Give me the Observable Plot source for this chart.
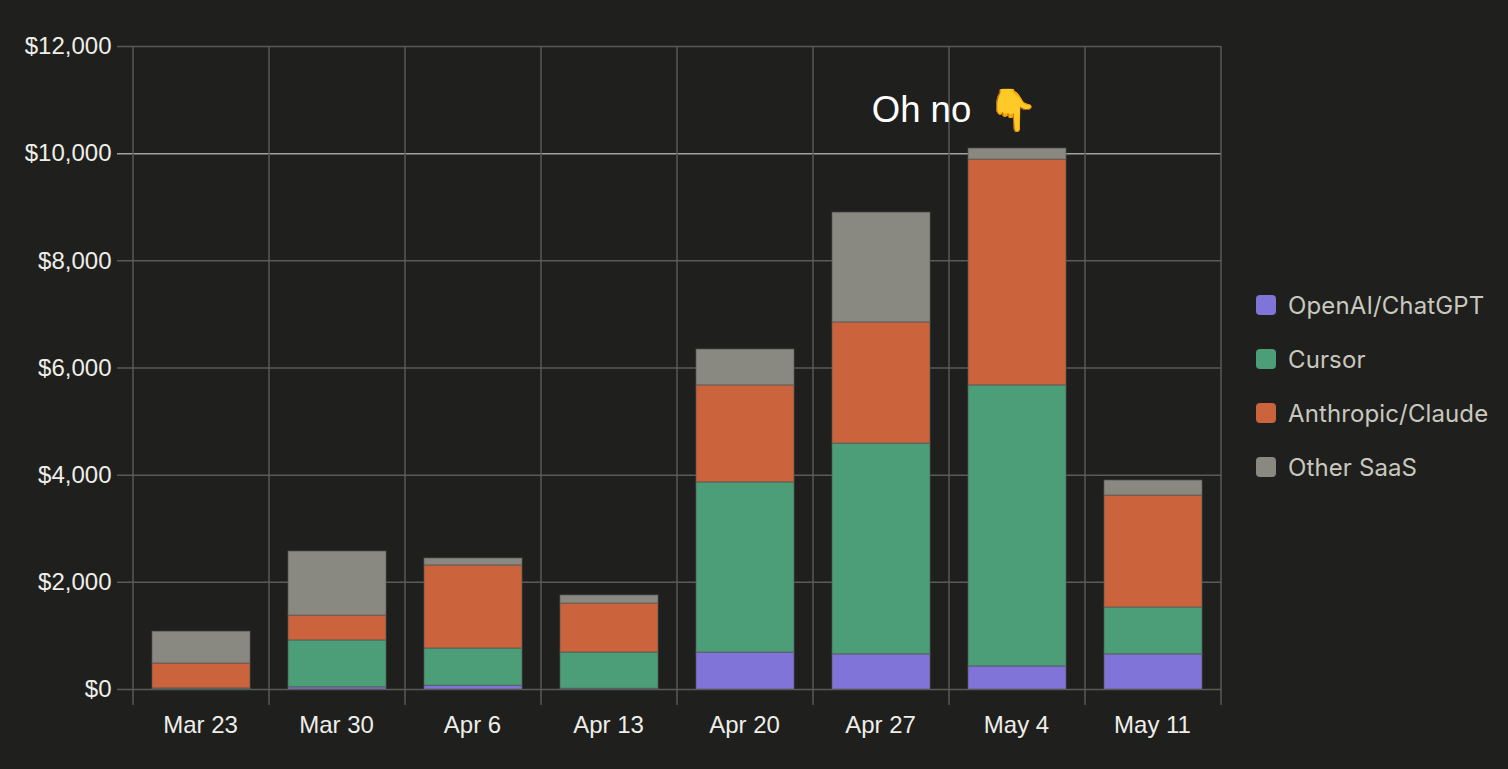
<!DOCTYPE html>
<html>
<head>
<meta charset="utf-8">
<script src="https://cdn.jsdelivr.net/npm/d3@7"></script>
<script src="https://cdn.jsdelivr.net/npm/@observablehq/plot@0.6"></script>
<style>
html,body{margin:0;padding:0;background:#1f1f1e;overflow:hidden}
#wrap{position:relative;width:1508px;height:769px}
#legend{position:absolute;left:1256px;top:278px;font:24px Inter,sans-serif;letter-spacing:.12px;color:#c9c8bf}
#legend div{display:flex;align-items:center;height:54px}
#legend i{display:block;width:20px;height:20px;border-radius:4px;margin-right:12px}
svg{display:block}
</style>
</head>
<body>
<div id="wrap"><div id="chart"></div><div id="legend"></div></div>
<script>
const weeks = ["Mar 23","Mar 30","Apr 6","Apr 13","Apr 20","Apr 27","May 4","May 11"];
const seriesNames = ["OpenAI/ChatGPT","Cursor","Anthropic/Claude","Other SaaS"];
const seriesColors = ["#8074d8","#4b9e78","#cb633d","#8a8981"];
const openai    = [5, 40, 70, 15, 690, 655, 430, 655];
const cursor    = [15, 875, 695, 675, 3175, 3935, 5245, 875];
const anthropic = [465, 465, 1550, 915, 1810, 2260, 4215, 2090];
const other     = [595, 1195, 130, 150, 670, 2050, 205, 280];
const yTicks = [0,2000,4000,6000,8000,10000,12000];
const seriesValues = [openai,cursor,anthropic,other];
const rows = weeks.flatMap((w,i)=>seriesNames.map((s,j)=>({week:w,series:s,value:seriesValues[j][i]})));
const annotation = [{week:"May 4", total:10095}];

const grid = "#5a5a58";
const chart = Plot.plot({
  width:1508, height:769,
  marginLeft:133, marginRight:287, marginTop:46, marginBottom:80,
  style:{background:"transparent",fontFamily:"'Liberation Sans',sans-serif"},
  x:{domain:weeks,paddingInner:0.28,paddingOuter:0.14,align:0.5,label:null,axis:null},
  y:{domain:[0,12000],label:null,axis:null},
  color:{domain:seriesNames,range:seriesColors},
  marks:[
    Plot.ruleY(yTicks,{y:d=>d,stroke:d=>(d===10000?"#a3a3a0":grid),strokeWidth:1.5,insetLeft:-16}),
    Plot.ruleX(weeks,{x:d=>d,dx:-68.5,stroke:grid,strokeWidth:1.5,insetBottom:-16}),
    Plot.ruleX(weeks.slice(-1),{x:d=>d,dx:67.5,stroke:grid,strokeWidth:1.5,insetBottom:-16}),
    Plot.barY(rows,{x:"week",y:"value",fill:"series",stroke:"#555",strokeOpacity:0.7,strokeWidth:1,order:seriesNames}),
    Plot.axisY(yTicks,{anchor:"left",tickSize:0,tickPadding:22,label:null,fontSize:24,fill:"#eeeee8",tickFormat:d=>"$"+d3.format(",")(d)}),
    Plot.axisX(weeks,{anchor:"bottom",tickSize:0,tickPadding:26,label:null,fontSize:24,fill:"#eeeee8",dx:-1}),
    Plot.text(annotation,{x:"week",y:"total",text:()=>"Oh no",dx:-96,dy:-38,fontSize:36.5,fill:"#fff"}),
    Plot.text(annotation,{x:"week",y:"total",text:()=>"👇",dx:-5,dy:-38,fontSize:41,fill:"#f5c342"})
  ]
});
document.getElementById("chart").append(chart);
const legend=document.getElementById("legend");
seriesNames.forEach((s,i)=>{
  const d=document.createElement("div");
  const sw=document.createElement("i");
  sw.style.background=seriesColors[i];
  d.append(sw,document.createTextNode(s));
  legend.append(d);
});
</script>
</body>
</html>
